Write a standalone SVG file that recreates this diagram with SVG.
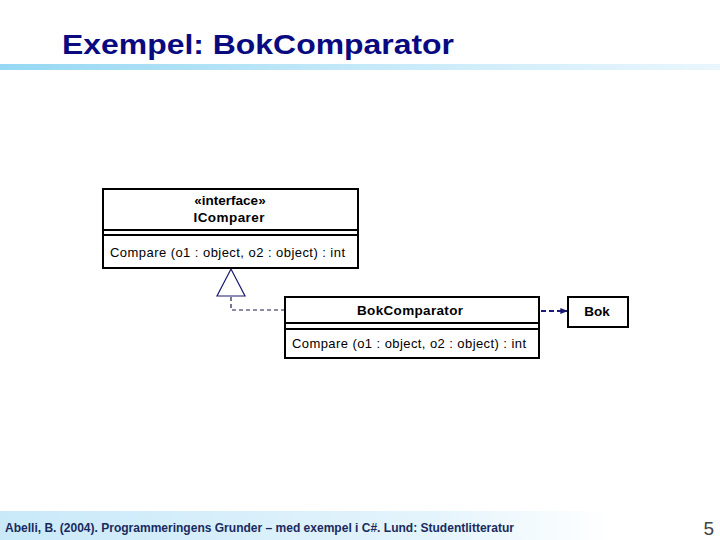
<svg xmlns="http://www.w3.org/2000/svg" width="720" height="540" viewBox="0 0 720 540">
<defs>
<linearGradient id="bar" x1="0" y1="0" x2="1" y2="0">
<stop offset="0" stop-color="#96d8f3"/>
<stop offset="0.5" stop-color="#c4e9f9"/>
<stop offset="1" stop-color="#eaf6fd"/>
</linearGradient>
<linearGradient id="foot" x1="0" y1="0" x2="1" y2="0">
<stop offset="0" stop-color="#c9e9f9"/>
<stop offset="0.6" stop-color="#e4f4fc"/>
<stop offset="0.85" stop-color="#ffffff"/>
</linearGradient>
<marker id="arr" viewBox="0 0 10 10" refX="10" refY="5" markerWidth="3.5" markerHeight="3.5" orient="auto">
<path d="M0,1 L10,5 L0,9 z" fill="#1a1a6e"/>
</marker>
<style>
.box{fill:#fff;stroke:#000;stroke-width:2}
.ln{stroke:#000;stroke-width:2}
.t{font-family:"Liberation Sans",Arial,sans-serif;font-size:13px;fill:#000}
.b{font-weight:bold;font-size:13.5px}
.dash{fill:none;stroke:#1a1a4e;stroke-width:1.2;stroke-dasharray:4,3}
</style>
</defs>
<rect width="720" height="540" fill="#fff"/>
<rect x="0" y="64" width="720" height="6" fill="url(#bar)"/>
<text x="62" y="54" font-family="'Liberation Sans',Arial,sans-serif" font-size="28" font-weight="bold" fill="#0a0a80" textLength="392" lengthAdjust="spacingAndGlyphs">Exempel: BokComparator</text>
<rect x="0" y="511" width="720" height="29" fill="url(#foot)"/>
<text x="5" y="532" font-family="'Liberation Sans Narrow','Liberation Sans',Arial,sans-serif" font-size="12.5" font-weight="bold" fill="#1a2a5e" textLength="509" lengthAdjust="spacingAndGlyphs">Abelli, B. (2004). Programmeringens Grunder – med exempel i C#. Lund: Studentlitteratur</text>
<text x="714" y="535" text-anchor="end" font-family="'Liberation Sans',Arial,sans-serif" font-size="19" fill="#444">5</text>
<g id="connectors">
<polyline class="dash" points="231,297 231,310 285,310"/>
<polygon points="231,269 217,296 245,296" fill="#fff" stroke="#1a1a6e" stroke-width="1.2"/>
<line x1="541" y1="311" x2="568" y2="311" fill="none" stroke="#1a1a80" stroke-width="2.2" stroke-dasharray="5,3" marker-end="url(#arr)"/>
</g>
<g id="IComparer">
<rect class="box" x="103" y="189" width="255" height="79"/>
<line class="ln" x1="103" y1="230" x2="358" y2="230"/>
<line class="ln" x1="103" y1="235" x2="358" y2="235"/>
<text class="t b" x="230" y="205" text-anchor="middle">«interface»</text>
<text class="t b" x="229" y="222" text-anchor="middle" textLength="71" lengthAdjust="spacing">IComparer</text>
<text class="t" x="110" y="257" textLength="235" lengthAdjust="spacing">Compare (o1 : object, o2 : object) : int</text>
</g>
<g id="BokComparator">
<rect class="box" x="285" y="297" width="254" height="61"/>
<line class="ln" x1="285" y1="323" x2="539" y2="323"/>
<line class="ln" x1="285" y1="329" x2="539" y2="329"/>
<text class="t b" x="410" y="315" text-anchor="middle" textLength="106" lengthAdjust="spacing">BokComparator</text>
<text class="t" x="292" y="348" textLength="234" lengthAdjust="spacing">Compare (o1 : object, o2 : object) : int</text>
</g>
<g id="Bok">
<rect class="box" x="568" y="297" width="60" height="30"/>
<text class="t b" x="597" y="316" text-anchor="middle">Bok</text>
</g>
</svg>
